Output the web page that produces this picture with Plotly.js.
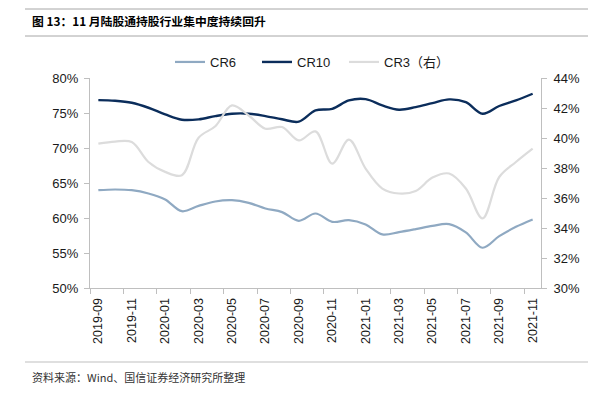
<!DOCTYPE html>
<html>
<head>
<meta charset="utf-8">
<script src="https://cdn.plot.ly/plotly-3.0.1.min.js"></script>
<style>
html,body{margin:0;padding:0;background:#fff;}
#chart{width:609px;height:399px;}
</style>
</head>
<body>
<div id="chart"></div>
<script>
// Months (category labels)
const months = ["2019-09","2019-10","2019-11","2019-12","2020-01","2020-02","2020-03","2020-04","2020-05","2020-06","2020-07","2020-08","2020-09","2020-10","2020-11","2020-12","2021-01","2021-02","2021-03","2021-04","2021-05","2021-06","2021-07","2021-08","2021-09","2021-10","2021-11"];
// CR6 (left axis, %)
const cr6 = [63.97,64.07,63.97,63.5,62.64,60.97,61.73,62.36,62.54,62.16,61.36,60.84,59.6,60.64,59.45,59.69,59.08,57.65,57.98,58.41,58.88,59.12,57.94,55.75,57.41,58.74,59.79];
// CR10 (left axis, %)
const cr10 = [76.84,76.75,76.46,75.75,74.8,74.04,74.09,74.56,74.9,74.9,74.56,74.1,73.76,75.37,75.6,76.8,76.98,76.08,75.47,75.84,76.4,76.94,76.55,74.9,76.0,76.8,77.75];
// CR3 (right axis, %)
const cr3 = [39.62,39.76,39.73,38.4,37.74,37.52,40.02,40.78,42.17,41.5,40.62,40.73,39.84,40.44,38.29,39.89,37.96,36.63,36.3,36.47,37.36,37.63,36.63,34.64,37.4,38.4,39.29];

const idx = months.map((m,i)=>i);
const labelIdx = idx.filter(i=>i%2===0);
const labelText = labelIdx.map(i=>months[i]);
const boundaryIdx = labelIdx.map(i=>i-0.5);

// plot area in pixels
const L=90, R=541, T=78, B=288;
const px = x => (x-L)/(R-L);
const py = y => (B-y)/(B-T);

const latin = "Liberation Sans, Arial, sans-serif";
const cjk = "Liberation Sans, Noto Sans CJK SC, sans-serif";

const traces = [
  {x: idx, y: cr6, name: "CR6", type: "scatter", mode: "lines", legendwidth: 42,
   line: {color: "#8FA9C2", width: 2.2, shape: "spline", smoothing: 1}, yaxis: "y"},
  {x: idx, y: cr10, name: "CR10", type: "scatter", mode: "lines", legendwidth: 42,
   line: {color: "#0B2D5B", width: 2.4, shape: "spline", smoothing: 1}, yaxis: "y"},
  {x: idx, y: cr3, name: "CR3（右）", type: "scatter", mode: "lines",
   line: {color: "#DCDCDC", width: 2.2, shape: "spline", smoothing: 1}, yaxis: "y2"}
];

const axisCommon = {
  showgrid: false, zeroline: false, showline: true, linecolor: "#BFBFBF", linewidth: 1,
  ticks: "outside", ticklen: 5, tickcolor: "#BFBFBF", tickwidth: 1,
  tickfont: {family: latin, size: 13, color: "#1a1a1a"}
};

const layout = {
  width: 609, height: 399,
  margin: {l: L, r: 609-R, t: T, b: 399-B, pad: 0},
  paper_bgcolor: "#fff", plot_bgcolor: "#fff",
  showlegend: true,
  legend: {orientation: "h", x: px(170), xanchor: "left", xref: "paper",
           y: 1-62/399, yref: "container", yanchor: "middle",
           font: {family: cjk, size: 13, color: "#1a1a1a"},
           bgcolor: "rgba(0,0,0,0)", itemwidth: 30, tracegroupgap: 0},
  title: {text: "图 13：11 月陆股通持股行业集中度持续回升", x: 32/609, xanchor: "left", xref: "container",
          y: 1-22/399, yref: "container", yanchor: "middle",
          font: {family: "Noto Sans CJK SC, sans-serif", size: 11.8, color: "#000", weight: "bold"}},
  xaxis: Object.assign({}, axisCommon, {
    range: [-0.5, 26.5], tickmode: "array", tickvals: labelIdx, ticktext: labelText,
    ticks: "", tickangle: -90, tickfont: {family: latin, size: 12.5, color: "#1a1a1a"},
    ticklabelstandoff: 4,
    minor: {tickmode: "array", tickvals: boundaryIdx, ticks: "outside", ticklen: 5, tickcolor: "#BFBFBF", tickwidth: 1, showgrid: false}
  }),
  yaxis: Object.assign({}, axisCommon, {
    range: [50, 80], dtick: 5, tick0: 50, ticksuffix: "%", ticklabelstandoff: 3
  }),
  yaxis2: Object.assign({}, axisCommon, {
    range: [30, 44], dtick: 2, tick0: 30, ticksuffix: "%", overlaying: "y", side: "right", ticklabelstandoff: 4
  }),
  shapes: [
    {type: "line", xref: "paper", yref: "paper", x0: px(25), x1: px(588), y0: py(9), y1: py(9), line: {color: "#A6A6A6", width: 1}},
    {type: "line", xref: "paper", yref: "paper", x0: px(25), x1: px(588), y0: py(36), y1: py(36), line: {color: "#A6A6A6", width: 1}},
    {type: "line", xref: "paper", yref: "paper", x0: px(25), x1: px(588), y0: py(362), y1: py(362), line: {color: "#BFBFBF", width: 1}}
  ],
  annotations: [
    {text: "资料来源：Wind、国信证券经济研究所整理", xref: "paper", yref: "paper",
     x: px(30), y: py(377), xanchor: "left", yanchor: "middle", showarrow: false,
     font: {family: "Noto Sans CJK SC, sans-serif", size: 11, color: "#333"}}
  ]
};

Plotly.newPlot("chart", traces, layout, {displayModeBar: false, staticPlot: true});
</script>
</body>
</html>
